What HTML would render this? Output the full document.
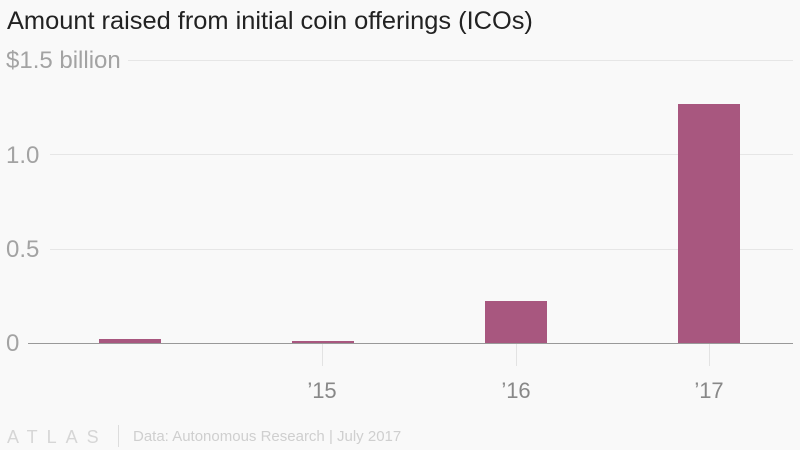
<!DOCTYPE html>
<html><head><meta charset="utf-8"><style>
html,body{margin:0;padding:0;background:#f9f9f9;}
svg{display:block;font-family:"Liberation Sans",sans-serif;}
</style></head><body>
<svg width="800" height="450" viewBox="0 0 800 450">
<rect width="800" height="450" fill="#f9f9f9"/>
<text x="7" y="29" font-size="25.4" fill="#222">Amount raised from initial coin offerings (ICOs)</text>
<g stroke="#e6e6e6" stroke-width="1">
<line x1="128" y1="60.5" x2="793" y2="60.5"/>
<line x1="50" y1="154.5" x2="793" y2="154.5"/>
<line x1="50" y1="249.5" x2="793" y2="249.5"/>
</g>
<g stroke="#e3e3e3" stroke-width="1">
<line x1="322.5" y1="343" x2="322.5" y2="366"/>
<line x1="516.5" y1="343" x2="516.5" y2="366"/>
<line x1="709.5" y1="343" x2="709.5" y2="366"/>
</g>
<g font-size="24" fill="#a3a3a3">
<text x="6" y="68">$1.5 billion</text>
<text x="6" y="163">1.0</text>
<text x="6" y="257">0.5</text>
<text x="6" y="351">0</text>
</g>
<g fill="#a8577f">
<rect x="99" y="339" width="62" height="4"/>
<rect x="292" y="341" width="62" height="2"/>
<rect x="485" y="301" width="62" height="42"/>
<rect x="678" y="104" width="62" height="239"/>
</g>
<line x1="28" y1="343.5" x2="793" y2="343.5" stroke="#999" stroke-width="1"/>
<g font-size="22" fill="#888" text-anchor="middle">
<text x="322" y="398">’15</text>
<text x="516" y="398">’16</text>
<text x="709" y="398">’17</text>
</g>
<g font-size="18" fill="#d6d6d6" letter-spacing="9">
<text x="7" y="443">ATLAS</text>
</g>
<line x1="118.5" y1="425" x2="118.5" y2="447" stroke="#ddd"/>
<text x="133" y="441" font-size="15" fill="#cfcfcf">Data: Autonomous Research | July 2017</text>
</svg>
</body></html>
